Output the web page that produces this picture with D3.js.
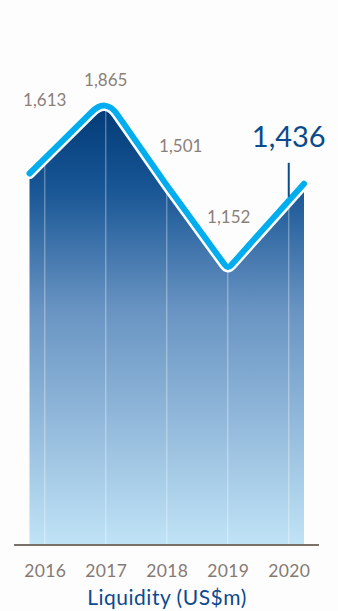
<!DOCTYPE html>
<html>
<head>
<meta charset="utf-8">
<script src="https://cdn.jsdelivr.net/npm/d3@7"></script>
<style>
  html, body { margin: 0; padding: 0; background: #fdfdfe; }
  svg { display: block; }
  text { font-family: Lato, "Open Sans", sans-serif; }
</style>
</head>
<body>
<script>
// Liquidity, US$ millions
const years = ["2016", "2017", "2018", "2019", "2020"];
const liquidity = [1613, 1865, 1501, 1152, 1436];
const valueLabels = ["1,613", "1,865", "1,501", "1,152", "1,436"];
const title = "Liquidity (US$m)";

// label placement relative to each point (dx, dy in px)
const labelOffsets = [[0, -52], [0, -12], [14, -33], [1, -46], [0, -54]];

const W = 338, H = 611;
const svg = d3.select("body").append("svg").attr("width", W).attr("height", H);

const x = d3.scaleLinear().domain([-0.25, 4.25]).range([29.5, 304]);
const y = d3.scaleLinear().domain([0, 1865]).range([545, 98]);
const y0 = y(0);

// gradient fill for the area
const defs = svg.append("defs");
const grad = defs.append("linearGradient")
  .attr("id", "liqFill").attr("gradientUnits", "userSpaceOnUse")
  .attr("x1", 0).attr("x2", 0).attr("y1", y(1865)).attr("y2", y0);
grad.append("stop").attr("offset", 0).attr("stop-color", "#003874");
grad.append("stop").attr("offset", 0.2).attr("stop-color", "#175594");
grad.append("stop").attr("offset", 0.47).attr("stop-color", "#6893c2");
grad.append("stop").attr("offset", 1).attr("stop-color", "#c0e3f6");

// points in pixel space, extended to the edges of the plot band
const pts = liquidity.map((v, i) => [x(i), y(v)]);
function extend(a, b, xt) {
  const t = (xt - a[0]) / (b[0] - a[0]);
  return [xt, a[1] + t * (b[1] - a[1])];
}
const xLeft = x.range()[0], xRight = x.range()[1];
const linePts = [extend(pts[0], pts[1], xLeft), ...pts, extend(pts[pts.length - 2], pts[pts.length - 1], xRight)];

// polyline with softened corners (peaks rounded more than troughs)
function roundedLine(p, ctx) {
  ctx.moveTo(p[0][0], p[0][1]);
  for (let i = 1; i < p.length - 1; i++) {
    const a = p[i - 1], c = p[i], b = p[i + 1];
    const isPeak = c[1] < a[1] && c[1] < b[1];
    const lin = Math.hypot(c[0] - a[0], c[1] - a[1]);
    const lout = Math.hypot(b[0] - c[0], b[1] - c[1]);
    const r = Math.min(isPeak ? 20 : 5, lin / 2, lout / 2);
    ctx.lineTo(c[0] - (c[0] - a[0]) / lin * r, c[1] - (c[1] - a[1]) / lin * r);
    ctx.quadraticCurveTo(c[0], c[1], c[0] + (b[0] - c[0]) / lout * r, c[1] + (b[1] - c[1]) / lout * r);
  }
  const last = p[p.length - 1];
  ctx.lineTo(last[0], last[1]);
  return ctx;
}

const areaPath = roundedLine(linePts, d3.path());
areaPath.lineTo(xRight, y0);
areaPath.lineTo(xLeft, y0);
areaPath.closePath();
svg.append("path").attr("d", areaPath.toString()).attr("fill", "url(#liqFill)");

// year gridlines inside the area
svg.append("g").selectAll("line").data(liquidity).join("line")
  .attr("x1", (d, i) => x(i)).attr("x2", (d, i) => x(i))
  .attr("y1", d => y(d)).attr("y2", y0)
  .attr("stroke", "#ffffff").attr("stroke-opacity", 0.35).attr("stroke-width", 1.3);

// line: white halo under a cyan stroke
const linePath = roundedLine(linePts, d3.path()).toString();
svg.append("path").attr("d", linePath).attr("fill", "none")
  .attr("stroke", "#ffffff").attr("stroke-width", 11)
  .attr("stroke-linejoin", "round").attr("stroke-linecap", "round");
svg.append("path").attr("d", linePath).attr("fill", "none")
  .attr("stroke", "#00aeef").attr("stroke-width", 6)
  .attr("stroke-linejoin", "round").attr("stroke-linecap", "round");

// baseline axis with year labels
const xAxis = d3.axisBottom(x).tickValues(d3.range(years.length))
  .tickFormat(i => years[i]).tickSize(0).tickPadding(20);
const axisG = svg.append("g").attr("transform", `translate(0,${y0})`).call(xAxis);
axisG.select(".domain").remove();
axisG.selectAll("text").attr("fill", "#857a73").attr("font-size", 17.5)
  .attr("letter-spacing", 0.3)
  .attr("font-family", "Lato, 'Open Sans', sans-serif");
svg.append("line").attr("x1", 14).attr("x2", 319).attr("y1", y0).attr("y2", y0)
  .attr("stroke", "#7b716b").attr("stroke-width", 2);

// value labels
const last = liquidity.length - 1;
svg.append("g").selectAll("text").data(liquidity).join("text")
  .attr("x", (d, i) => x(i) + labelOffsets[i][0])
  .attr("y", (d, i) => y(d) + labelOffsets[i][1])
  .attr("text-anchor", "middle")
  .attr("fill", (d, i) => i === last ? "#0b4a8b" : "#8a807a")
  .attr("font-size", (d, i) => i === last ? 29 : 17)
  .text((d, i) => valueLabels[i]);

// leader tick for the latest value
svg.append("line")
  .attr("x1", x(last)).attr("x2", x(last))
  .attr("y1", y(liquidity[last]) - 38).attr("y2", y(liquidity[last]) - 4)
  .attr("stroke", "#0b4a8b").attr("stroke-width", 2);

// chart title
svg.append("text").attr("x", 167).attr("y", 605).attr("text-anchor", "middle")
  .attr("fill", "#0d4a8c").attr("font-size", 21).attr("letter-spacing", 0.5).text(title);
</script>
</body>
</html>
